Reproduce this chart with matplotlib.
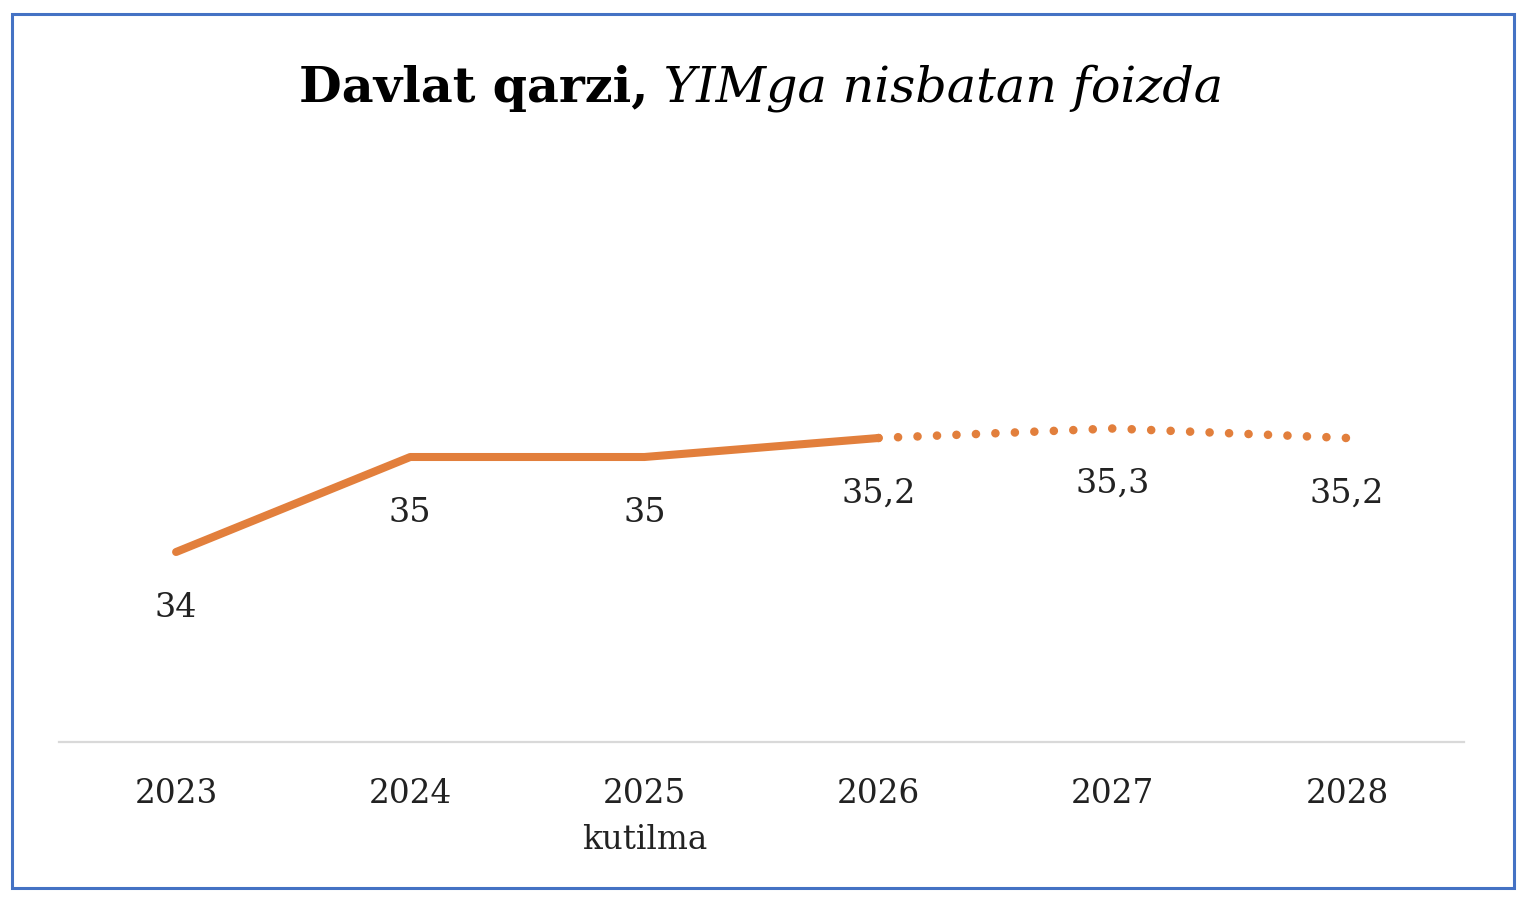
import matplotlib
matplotlib.use("Agg")
import matplotlib.pyplot as plt
from matplotlib.patches import Rectangle
from matplotlib.transforms import blended_transform_factory

years = ["2023", "2024", "2025", "2026", "2027", "2028"]
values = [34.0, 35.0, 35.0, 35.2, 35.3, 35.2]
value_labels = ["34", "35", "35", "35,2", "35,3", "35,2"]
actual_count = 4  # solid through 2026, dotted forecast after
sub_label = "kutilma"
title_bold = "Davlat qarzi,"
title_italic = " YIMga nisbatan foizda"

ORANGE = "#E27F3C"
FONT = "DejaVu Serif"

W, H = 1528, 902
fig = plt.figure(figsize=(W / 100, H / 100), dpi=100)
fig.patch.set_facecolor("white")

ax = fig.add_axes([59 / W, 1 - 742 / H, (1464 - 59) / W, (742 - 172) / H])
ax.set_xlim(-0.5, len(years) - 0.5)
ax.set_ylim(32, 38)

x = list(range(len(years)))
ax.plot(x[:actual_count], values[:actual_count], color=ORANGE, lw=5.8,
        solid_capstyle="round", solid_joinstyle="round")
ax.plot(x[actual_count - 1:], values[actual_count - 1:], color=ORANGE, lw=6.2,
        linestyle=(0, (0.001, 2.262)), dash_capstyle="round")

for xi, v, lab in zip(x, values, value_labels):
    ax.annotate(lab, (xi, v), xytext=(0, -40), textcoords="offset points",
                ha="center", va="center", fontsize=24, family=FONT, color="#222222")

for s in ["top", "left", "right"]:
    ax.spines[s].set_visible(False)
ax.spines["bottom"].set_color("#D9D9D9")
ax.spines["bottom"].set_linewidth(1.6)
ax.set_yticks([])
ax.set_xticks(x)
ax.set_xticklabels(years, fontsize=23.5, family=FONT, color="#222222")
ax.tick_params(axis="x", length=0, pad=26)

trans = blended_transform_factory(ax.transData, fig.transFigure)
ax.text(2, 1 - 840 / H, sub_label, transform=trans, ha="center", va="center",
        fontsize=23.5, family=FONT, color="#222222")

# border
fig.patches.append(Rectangle((12 / W, 1 - 888 / H), (1514 - 12) / W, (888 - 14) / H,
                             transform=fig.transFigure, fill=False,
                             edgecolor="#4472C4", linewidth=2.2))

# title in two styles
fig.canvas.draw()
r = fig.canvas.get_renderer()
ty = 1 - 88 / H
t1 = fig.text(0, ty, title_bold, fontsize=35.5, fontweight="bold", family=FONT,
              ha="left", va="center", color="black")
t2 = fig.text(0, ty, title_italic, fontsize=35.5, fontstyle="italic", family=FONT,
              ha="left", va="center", color="black")
w1 = t1.get_window_extent(r).width
w2 = t2.get_window_extent(r).width
cx = 761
start = cx - (w1 + w2) / 2
t1.set_x(start / W)
t2.set_x((start + w1) / W)

fig.savefig("out.png", dpi=100)
